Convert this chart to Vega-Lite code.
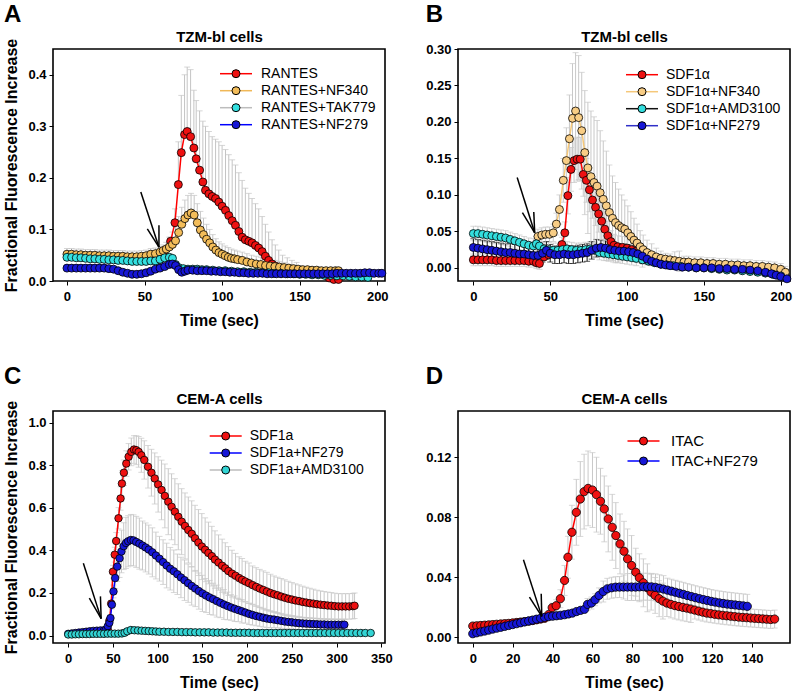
{
"$schema":"https://vega.github.io/schema/vega-lite/v6.json",
"background":"white",
"padding":{"left":3,"top":2,"right":0,"bottom":0},
"config":{
"font":"Liberation Sans",
"view":{"stroke":"black","strokeWidth":1.6},
"axis":{"labelFont":"Liberation Sans","labelFontWeight":"bold","labelFontSize":13,"labelColor":"black","titleFont":"Liberation Sans","titleFontWeight":"bold","titleFontSize":16,"titleColor":"black","tickColor":"black","tickSize":4,"tickWidth":1,"domain":false,"grid":false},
"axisX":{"labelPadding":5,"titlePadding":9},
"axisY":{"labelPadding":3,"titlePadding":8},
"legend":{"labelFont":"Liberation Sans","labelFontSize":14,"labelColor":"black","padding":0,"rowPadding":3},
"title":{"font":"Liberation Sans","fontSize":24,"fontWeight":"bold","color":"black","anchor":"start","frame":"bounds","offset":2}
},
"datasets":{
"A":[
{"s":"RANTES","t":60,"v":0.042},{"s":"RANTES","t":63,"v":0.048},{"s":"RANTES","t":66.8,"v":0.077,"h":0.085},{"s":"RANTES","t":69.6,"v":0.113,"h":0.14},{"s":"RANTES","t":71.8,"v":0.187,"h":0.27},{"s":"RANTES","t":73.7,"v":0.249,"h":0.36},{"s":"RANTES","t":75.8,"v":0.284,"h":0.4},{"s":"RANTES","t":77.5,"v":0.29,"h":0.415},{"s":"RANTES","t":79.7,"v":0.28,"h":0.41},{"s":"RANTES","t":81.8,"v":0.258,"h":0.37},{"s":"RANTES","t":83.3,"v":0.237,"h":0.35},{"s":"RANTES","t":85.5,"v":0.215,"h":0.33},{"s":"RANTES","t":87.6,"v":0.192,"h":0.31},{"s":"RANTES","t":89.3,"v":0.176,"h":0.3},{"s":"RANTES","t":91.5,"v":0.169,"h":0.29},{"s":"RANTES","t":93.6,"v":0.164,"h":0.28},{"s":"RANTES","t":95.8,"v":0.16,"h":0.275},{"s":"RANTES","t":97.9,"v":0.153,"h":0.27},{"s":"RANTES","t":100,"v":0.145,"h":0.263},{"s":"RANTES","t":102.2,"v":0.137,"h":0.255},{"s":"RANTES","t":104.3,"v":0.127,"h":0.245},{"s":"RANTES","t":106.5,"v":0.117,"h":0.235},{"s":"RANTES","t":108.6,"v":0.108,"h":0.225},{"s":"RANTES","t":110.8,"v":0.096,"h":0.21},{"s":"RANTES","t":112.9,"v":0.085,"h":0.195},{"s":"RANTES","t":115,"v":0.08,"h":0.18},{"s":"RANTES","t":117.2,"v":0.077,"h":0.17},{"s":"RANTES","t":119.3,"v":0.074,"h":0.16},{"s":"RANTES","t":121.5,"v":0.069,"h":0.15},{"s":"RANTES","t":123.6,"v":0.064,"h":0.14},{"s":"RANTES","t":125.8,"v":0.057,"h":0.125},{"s":"RANTES","t":127.9,"v":0.048,"h":0.11},{"s":"RANTES","t":130,"v":0.04,"h":0.095},{"s":"RANTES","t":132.2,"v":0.033,"h":0.08},{"s":"RANTES","t":134.3,"v":0.029,"h":0.07},{"s":"RANTES","t":136.5,"v":0.025,"h":0.06},{"s":"RANTES","t":139,"v":0.023,"h":0.05},{"s":"RANTES","t":142,"v":0.022,"h":0.045},{"s":"RANTES","t":145,"v":0.022,"h":0.04},{"s":"RANTES","t":148,"v":0.021,"h":0.036},{"s":"RANTES","t":151,"v":0.021},{"s":"RANTES","t":154,"v":0.02},{"s":"RANTES","t":157,"v":0.02},{"s":"RANTES","t":160,"v":0.019},{"s":"RANTES","t":163,"v":0.017},{"s":"RANTES","t":166,"v":0.012},{"s":"RANTES","t":169,"v":0.006},{"s":"RANTES","t":172,"v":0.003},{"s":"RANTES","t":175,"v":0.003},
{"s":"RANTES+NF340","t":0,"v":0.052,"h":0.063},{"s":"RANTES+NF340","t":3,"v":0.052,"h":0.063},{"s":"RANTES+NF340","t":6,"v":0.051,"h":0.062},{"s":"RANTES+NF340","t":9,"v":0.051,"h":0.062},{"s":"RANTES+NF340","t":12,"v":0.05,"h":0.061},{"s":"RANTES+NF340","t":15,"v":0.05,"h":0.061},{"s":"RANTES+NF340","t":18,"v":0.05,"h":0.061},{"s":"RANTES+NF340","t":21,"v":0.049,"h":0.06},{"s":"RANTES+NF340","t":24,"v":0.049,"h":0.06},{"s":"RANTES+NF340","t":27,"v":0.049,"h":0.06},{"s":"RANTES+NF340","t":30,"v":0.048,"h":0.059},{"s":"RANTES+NF340","t":33,"v":0.048,"h":0.059},{"s":"RANTES+NF340","t":36,"v":0.048,"h":0.059},{"s":"RANTES+NF340","t":39,"v":0.047,"h":0.058},{"s":"RANTES+NF340","t":42,"v":0.047,"h":0.058},{"s":"RANTES+NF340","t":45,"v":0.047,"h":0.058},{"s":"RANTES+NF340","t":48,"v":0.048,"h":0.059},{"s":"RANTES+NF340","t":51,"v":0.049,"h":0.06},{"s":"RANTES+NF340","t":54,"v":0.052,"h":0.063},{"s":"RANTES+NF340","t":57,"v":0.053,"h":0.064},{"s":"RANTES+NF340","t":60,"v":0.056,"h":0.067},{"s":"RANTES+NF340","t":62,"v":0.059,"h":0.07},{"s":"RANTES+NF340","t":64,"v":0.062,"h":0.075},{"s":"RANTES+NF340","t":66,"v":0.066,"h":0.085},{"s":"RANTES+NF340","t":68,"v":0.071,"h":0.095},{"s":"RANTES+NF340","t":70,"v":0.078,"h":0.105},{"s":"RANTES+NF340","t":72,"v":0.094,"h":0.125},{"s":"RANTES+NF340","t":74,"v":0.11,"h":0.143},{"s":"RANTES+NF340","t":76,"v":0.121,"h":0.157},{"s":"RANTES+NF340","t":78,"v":0.128,"h":0.166},{"s":"RANTES+NF340","t":80,"v":0.132,"h":0.17},{"s":"RANTES+NF340","t":82,"v":0.128,"h":0.166},{"s":"RANTES+NF340","t":84,"v":0.113,"h":0.15},{"s":"RANTES+NF340","t":86,"v":0.099,"h":0.135},{"s":"RANTES+NF340","t":88,"v":0.09,"h":0.122},{"s":"RANTES+NF340","t":90,"v":0.081,"h":0.11},{"s":"RANTES+NF340","t":92,"v":0.074,"h":0.1},{"s":"RANTES+NF340","t":94,"v":0.066,"h":0.09},{"s":"RANTES+NF340","t":96,"v":0.06,"h":0.082},{"s":"RANTES+NF340","t":98,"v":0.055,"h":0.076},{"s":"RANTES+NF340","t":100,"v":0.052,"h":0.072},{"s":"RANTES+NF340","t":102,"v":0.049,"h":0.068},{"s":"RANTES+NF340","t":104,"v":0.046,"h":0.065},{"s":"RANTES+NF340","t":106,"v":0.044,"h":0.062},{"s":"RANTES+NF340","t":108,"v":0.043,"h":0.06},{"s":"RANTES+NF340","t":110,"v":0.0415,"h":0.058},{"s":"RANTES+NF340","t":113,"v":0.04,"h":0.056},{"s":"RANTES+NF340","t":116,"v":0.037,"h":0.053},{"s":"RANTES+NF340","t":119,"v":0.035,"h":0.05},{"s":"RANTES+NF340","t":122,"v":0.033,"h":0.048},{"s":"RANTES+NF340","t":125,"v":0.032,"h":0.046},{"s":"RANTES+NF340","t":128,"v":0.03,"h":0.044},{"s":"RANTES+NF340","t":131,"v":0.029,"h":0.042},{"s":"RANTES+NF340","t":134,"v":0.028,"h":0.04},{"s":"RANTES+NF340","t":137,"v":0.027,"h":0.038},{"s":"RANTES+NF340","t":140,"v":0.026,"h":0.036},{"s":"RANTES+NF340","t":143,"v":0.025},{"s":"RANTES+NF340","t":146,"v":0.024},{"s":"RANTES+NF340","t":149,"v":0.023},{"s":"RANTES+NF340","t":152,"v":0.022},{"s":"RANTES+NF340","t":155,"v":0.022},{"s":"RANTES+NF340","t":158,"v":0.021},{"s":"RANTES+NF340","t":161,"v":0.021},{"s":"RANTES+NF340","t":164,"v":0.02},{"s":"RANTES+NF340","t":167,"v":0.02},{"s":"RANTES+NF340","t":170,"v":0.02},{"s":"RANTES+NF340","t":173,"v":0.02},{"s":"RANTES+NF340","t":175,"v":0.02},
{"s":"RANTES+TAK779","t":0,"v":0.046,"h":0.056},{"s":"RANTES+TAK779","t":3,"v":0.046,"h":0.056},{"s":"RANTES+TAK779","t":6,"v":0.045,"h":0.055},{"s":"RANTES+TAK779","t":9,"v":0.045,"h":0.055},{"s":"RANTES+TAK779","t":12,"v":0.044,"h":0.054},{"s":"RANTES+TAK779","t":15,"v":0.043,"h":0.053},{"s":"RANTES+TAK779","t":18,"v":0.043,"h":0.053},{"s":"RANTES+TAK779","t":21,"v":0.042,"h":0.052},{"s":"RANTES+TAK779","t":24,"v":0.042,"h":0.052},{"s":"RANTES+TAK779","t":27,"v":0.041,"h":0.051},{"s":"RANTES+TAK779","t":30,"v":0.041,"h":0.051},{"s":"RANTES+TAK779","t":33,"v":0.04,"h":0.05},{"s":"RANTES+TAK779","t":36,"v":0.04,"h":0.05},{"s":"RANTES+TAK779","t":39,"v":0.039,"h":0.049},{"s":"RANTES+TAK779","t":42,"v":0.038,"h":0.048},{"s":"RANTES+TAK779","t":45,"v":0.038,"h":0.048},{"s":"RANTES+TAK779","t":48,"v":0.038,"h":0.048},{"s":"RANTES+TAK779","t":51,"v":0.038,"h":0.048},{"s":"RANTES+TAK779","t":54,"v":0.039,"h":0.049},{"s":"RANTES+TAK779","t":57,"v":0.039,"h":0.049},{"s":"RANTES+TAK779","t":60,"v":0.042,"h":0.052},{"s":"RANTES+TAK779","t":63,"v":0.045,"h":0.055},{"s":"RANTES+TAK779","t":66,"v":0.046},{"s":"RANTES+TAK779","t":68,"v":0.044},{"s":"RANTES+TAK779","t":70,"v":0.032},{"s":"RANTES+TAK779","t":72,"v":0.026},{"s":"RANTES+TAK779","t":75,"v":0.024},{"s":"RANTES+TAK779","t":78,"v":0.023},{"s":"RANTES+TAK779","t":81,"v":0.023},{"s":"RANTES+TAK779","t":84,"v":0.023},{"s":"RANTES+TAK779","t":87,"v":0.022},{"s":"RANTES+TAK779","t":90,"v":0.022},{"s":"RANTES+TAK779","t":94,"v":0.021},{"s":"RANTES+TAK779","t":98,"v":0.02},{"s":"RANTES+TAK779","t":102,"v":0.02},{"s":"RANTES+TAK779","t":106,"v":0.019},{"s":"RANTES+TAK779","t":110,"v":0.018},{"s":"RANTES+TAK779","t":114,"v":0.018},{"s":"RANTES+TAK779","t":118,"v":0.017},{"s":"RANTES+TAK779","t":122,"v":0.017},{"s":"RANTES+TAK779","t":126,"v":0.016},{"s":"RANTES+TAK779","t":130,"v":0.016},{"s":"RANTES+TAK779","t":134,"v":0.015},{"s":"RANTES+TAK779","t":138,"v":0.015},{"s":"RANTES+TAK779","t":142,"v":0.014},{"s":"RANTES+TAK779","t":146,"v":0.014},{"s":"RANTES+TAK779","t":150,"v":0.013},{"s":"RANTES+TAK779","t":154,"v":0.013},{"s":"RANTES+TAK779","t":158,"v":0.012},{"s":"RANTES+TAK779","t":162,"v":0.012},{"s":"RANTES+TAK779","t":166,"v":0.011},{"s":"RANTES+TAK779","t":170,"v":0.011},{"s":"RANTES+TAK779","t":174,"v":0.01},{"s":"RANTES+TAK779","t":178,"v":0.01},{"s":"RANTES+TAK779","t":182,"v":0.009},{"s":"RANTES+TAK779","t":186,"v":0.008},{"s":"RANTES+TAK779","t":190,"v":0.008},{"s":"RANTES+TAK779","t":194,"v":0.007},
{"s":"RANTES+NF279","t":0,"v":0.025},{"s":"RANTES+NF279","t":3,"v":0.025},{"s":"RANTES+NF279","t":6,"v":0.025},{"s":"RANTES+NF279","t":9,"v":0.025},{"s":"RANTES+NF279","t":12,"v":0.025},{"s":"RANTES+NF279","t":15,"v":0.025},{"s":"RANTES+NF279","t":18,"v":0.025},{"s":"RANTES+NF279","t":21,"v":0.025},{"s":"RANTES+NF279","t":24,"v":0.025},{"s":"RANTES+NF279","t":27,"v":0.024},{"s":"RANTES+NF279","t":30,"v":0.023},{"s":"RANTES+NF279","t":33,"v":0.02},{"s":"RANTES+NF279","t":36,"v":0.017},{"s":"RANTES+NF279","t":39,"v":0.015},{"s":"RANTES+NF279","t":42,"v":0.013},{"s":"RANTES+NF279","t":45,"v":0.013},{"s":"RANTES+NF279","t":48,"v":0.014},{"s":"RANTES+NF279","t":51,"v":0.016},{"s":"RANTES+NF279","t":54,"v":0.019},{"s":"RANTES+NF279","t":57,"v":0.023},{"s":"RANTES+NF279","t":60,"v":0.025},{"s":"RANTES+NF279","t":63,"v":0.028},{"s":"RANTES+NF279","t":66,"v":0.032},{"s":"RANTES+NF279","t":68,"v":0.033},{"s":"RANTES+NF279","t":70,"v":0.03},{"s":"RANTES+NF279","t":72,"v":0.022},{"s":"RANTES+NF279","t":74,"v":0.017},{"s":"RANTES+NF279","t":76,"v":0.019},{"s":"RANTES+NF279","t":78,"v":0.021},{"s":"RANTES+NF279","t":81,"v":0.021},{"s":"RANTES+NF279","t":84,"v":0.02},{"s":"RANTES+NF279","t":87,"v":0.02},{"s":"RANTES+NF279","t":90,"v":0.02},{"s":"RANTES+NF279","t":93,"v":0.019},{"s":"RANTES+NF279","t":96,"v":0.019},{"s":"RANTES+NF279","t":99,"v":0.018},{"s":"RANTES+NF279","t":102,"v":0.018},{"s":"RANTES+NF279","t":105,"v":0.017},{"s":"RANTES+NF279","t":108,"v":0.017},{"s":"RANTES+NF279","t":111,"v":0.016},{"s":"RANTES+NF279","t":114,"v":0.016},{"s":"RANTES+NF279","t":117,"v":0.015},{"s":"RANTES+NF279","t":120,"v":0.015},{"s":"RANTES+NF279","t":123,"v":0.015},{"s":"RANTES+NF279","t":126,"v":0.015},{"s":"RANTES+NF279","t":129,"v":0.014},{"s":"RANTES+NF279","t":132,"v":0.014},{"s":"RANTES+NF279","t":135,"v":0.014},{"s":"RANTES+NF279","t":138,"v":0.014},{"s":"RANTES+NF279","t":141,"v":0.014},{"s":"RANTES+NF279","t":144,"v":0.014},{"s":"RANTES+NF279","t":147,"v":0.014},{"s":"RANTES+NF279","t":150,"v":0.014},{"s":"RANTES+NF279","t":153,"v":0.014},{"s":"RANTES+NF279","t":156,"v":0.014},{"s":"RANTES+NF279","t":159,"v":0.014},{"s":"RANTES+NF279","t":162,"v":0.014},{"s":"RANTES+NF279","t":165,"v":0.014},{"s":"RANTES+NF279","t":168,"v":0.014},{"s":"RANTES+NF279","t":171,"v":0.014},{"s":"RANTES+NF279","t":174,"v":0.015},{"s":"RANTES+NF279","t":177,"v":0.015},{"s":"RANTES+NF279","t":180,"v":0.015},{"s":"RANTES+NF279","t":183,"v":0.015},{"s":"RANTES+NF279","t":186,"v":0.015},{"s":"RANTES+NF279","t":189,"v":0.015},{"s":"RANTES+NF279","t":192,"v":0.016},{"s":"RANTES+NF279","t":195,"v":0.016},{"s":"RANTES+NF279","t":198,"v":0.015},{"s":"RANTES+NF279","t":201,"v":0.015},{"s":"RANTES+NF279","t":203,"v":0.015}
],
"B":[
{"s":"SDF1α","t":0,"v":0.011,"e":0.008},{"s":"SDF1α","t":3,"v":0.011,"e":0.008},{"s":"SDF1α","t":6,"v":0.011,"e":0.008},{"s":"SDF1α","t":9,"v":0.011,"e":0.008},{"s":"SDF1α","t":12,"v":0.011,"e":0.008},{"s":"SDF1α","t":15,"v":0.01,"e":0.008},{"s":"SDF1α","t":18,"v":0.01,"e":0.008},{"s":"SDF1α","t":21,"v":0.01,"e":0.008},{"s":"SDF1α","t":24,"v":0.01,"e":0.008},{"s":"SDF1α","t":27,"v":0.01,"e":0.008},{"s":"SDF1α","t":30,"v":0.01,"e":0.008},{"s":"SDF1α","t":33,"v":0.01,"e":0.008},{"s":"SDF1α","t":36,"v":0.009,"e":0.008},{"s":"SDF1α","t":39,"v":0.009,"e":0.008},{"s":"SDF1α","t":41,"v":0.007,"e":0.008},{"s":"SDF1α","t":43,"v":0.006,"e":0.008},{"s":"SDF1α","t":46,"v":0.015},{"s":"SDF1α","t":49,"v":0.018},{"s":"SDF1α","t":52,"v":0.02},{"s":"SDF1α","t":55,"v":0.022},{"s":"SDF1α","t":57.6,"v":0.032,"e":0.01},{"s":"SDF1α","t":59.5,"v":0.048,"e":0.015},{"s":"SDF1α","t":61.5,"v":0.099,"e":0.025},{"s":"SDF1α","t":63.5,"v":0.135,"e":0.03},{"s":"SDF1α","t":65.5,"v":0.147,"e":0.03},{"s":"SDF1α","t":67.5,"v":0.149,"e":0.03},{"s":"SDF1α","t":69.5,"v":0.149,"e":0.03},{"s":"SDF1α","t":71.5,"v":0.128,"e":0.03},{"s":"SDF1α","t":73.5,"v":0.12,"e":0.03},{"s":"SDF1α","t":75.5,"v":0.107,"e":0.03},{"s":"SDF1α","t":77.5,"v":0.093,"e":0.025},{"s":"SDF1α","t":79.5,"v":0.083,"e":0.025},{"s":"SDF1α","t":81.5,"v":0.074,"e":0.025},{"s":"SDF1α","t":83.5,"v":0.064,"e":0.025},{"s":"SDF1α","t":85.5,"v":0.053,"e":0.025},{"s":"SDF1α","t":87.5,"v":0.044,"e":0.02},{"s":"SDF1α","t":89.5,"v":0.036,"e":0.015},{"s":"SDF1α","t":91.5,"v":0.031,"e":0.015},{"s":"SDF1α","t":94,"v":0.029,"e":0.015},{"s":"SDF1α","t":97,"v":0.028,"e":0.015},{"s":"SDF1α","t":100,"v":0.027,"e":0.015},{"s":"SDF1α","t":103,"v":0.025,"e":0.012},{"s":"SDF1α","t":106,"v":0.023,"e":0.012},{"s":"SDF1α","t":110,"v":0.02,"e":0.01},{"s":"SDF1α","t":115,"v":0.016},{"s":"SDF1α","t":120,"v":0.012},{"s":"SDF1α","t":125,"v":0.009},{"s":"SDF1α","t":130,"v":0.006},{"s":"SDF1α","t":135,"v":0.004},{"s":"SDF1α","t":140,"v":0.003},{"s":"SDF1α","t":145,"v":0.002},{"s":"SDF1α","t":150,"v":0.001},{"s":"SDF1α","t":155,"v":0},{"s":"SDF1α","t":160,"v":0},{"s":"SDF1α","t":165,"v":-0.001},{"s":"SDF1α","t":170,"v":-0.002},{"s":"SDF1α","t":175,"v":-0.003},{"s":"SDF1α","t":180,"v":-0.004},{"s":"SDF1α","t":185,"v":-0.005},{"s":"SDF1α","t":190,"v":-0.007},{"s":"SDF1α","t":195,"v":-0.008},{"s":"SDF1α","t":200,"v":-0.01},
{"s":"SDF1α+NF340","t":42,"v":0.043,"e":0.01},{"s":"SDF1α+NF340","t":44.5,"v":0.045,"e":0.01},{"s":"SDF1α+NF340","t":47,"v":0.046,"e":0.01},{"s":"SDF1α+NF340","t":49.5,"v":0.046,"e":0.01},{"s":"SDF1α+NF340","t":52,"v":0.048,"e":0.012},{"s":"SDF1α+NF340","t":54,"v":0.06,"e":0.015},{"s":"SDF1α+NF340","t":56,"v":0.08,"e":0.02},{"s":"SDF1α+NF340","t":58.5,"v":0.12,"e":0.03},{"s":"SDF1α+NF340","t":60.5,"v":0.147,"e":0.045},{"s":"SDF1α+NF340","t":62.5,"v":0.177,"e":0.06},{"s":"SDF1α+NF340","t":64.5,"v":0.205,"e":0.075},{"s":"SDF1α+NF340","t":66.5,"v":0.215,"e":0.08},{"s":"SDF1α+NF340","t":68.5,"v":0.206,"e":0.085},{"s":"SDF1α+NF340","t":70.5,"v":0.188,"e":0.08},{"s":"SDF1α+NF340","t":72.5,"v":0.158,"e":0.085},{"s":"SDF1α+NF340","t":74.5,"v":0.137,"e":0.09},{"s":"SDF1α+NF340","t":76.5,"v":0.125,"e":0.09},{"s":"SDF1α+NF340","t":78.5,"v":0.117,"e":0.09},{"s":"SDF1α+NF340","t":80.5,"v":0.112,"e":0.09},{"s":"SDF1α+NF340","t":82.5,"v":0.103,"e":0.085},{"s":"SDF1α+NF340","t":84.5,"v":0.094,"e":0.08},{"s":"SDF1α+NF340","t":86.5,"v":0.085,"e":0.075},{"s":"SDF1α+NF340","t":88.5,"v":0.076,"e":0.065},{"s":"SDF1α+NF340","t":90.5,"v":0.068,"e":0.058},{"s":"SDF1α+NF340","t":92.5,"v":0.062,"e":0.055},{"s":"SDF1α+NF340","t":94.5,"v":0.058,"e":0.05},{"s":"SDF1α+NF340","t":96.5,"v":0.055,"e":0.045},{"s":"SDF1α+NF340","t":98.5,"v":0.053,"e":0.04},{"s":"SDF1α+NF340","t":100.5,"v":0.048,"e":0.037},{"s":"SDF1α+NF340","t":102.5,"v":0.043,"e":0.034},{"s":"SDF1α+NF340","t":104.5,"v":0.038,"e":0.03},{"s":"SDF1α+NF340","t":106.5,"v":0.034,"e":0.026},{"s":"SDF1α+NF340","t":108.5,"v":0.029,"e":0.022},{"s":"SDF1α+NF340","t":110.5,"v":0.025,"e":0.02},{"s":"SDF1α+NF340","t":113,"v":0.021,"e":0.017},{"s":"SDF1α+NF340","t":116,"v":0.018,"e":0.015},{"s":"SDF1α+NF340","t":119,"v":0.015,"e":0.012},{"s":"SDF1α+NF340","t":122,"v":0.013,"e":0.01},{"s":"SDF1α+NF340","t":125,"v":0.012,"e":0.008},{"s":"SDF1α+NF340","t":128,"v":0.011,"e":0.008},{"s":"SDF1α+NF340","t":131,"v":0.01,"e":0.012},{"s":"SDF1α+NF340","t":134,"v":0.009,"e":0.014},{"s":"SDF1α+NF340","t":137,"v":0.008,"e":0.008},{"s":"SDF1α+NF340","t":140,"v":0.008,"e":0.008},{"s":"SDF1α+NF340","t":144,"v":0.007,"e":0.008},{"s":"SDF1α+NF340","t":148,"v":0.007,"e":0.008},{"s":"SDF1α+NF340","t":152,"v":0.006,"e":0.008},{"s":"SDF1α+NF340","t":156,"v":0.006,"e":0.008},{"s":"SDF1α+NF340","t":160,"v":0.005,"e":0.008},{"s":"SDF1α+NF340","t":164,"v":0.005,"e":0.008},{"s":"SDF1α+NF340","t":168,"v":0.004,"e":0.008},{"s":"SDF1α+NF340","t":172,"v":0.004,"e":0.008},{"s":"SDF1α+NF340","t":176,"v":0.003,"e":0.008},{"s":"SDF1α+NF340","t":180,"v":0.003,"e":0.008},{"s":"SDF1α+NF340","t":184,"v":0.002,"e":0.008},{"s":"SDF1α+NF340","t":188,"v":0.002,"e":0.008},{"s":"SDF1α+NF340","t":192,"v":0.001,"e":0.008},{"s":"SDF1α+NF340","t":196,"v":0,"e":0.008},{"s":"SDF1α+NF340","t":200,"v":-0.002,"e":0.008},{"s":"SDF1α+NF340","t":203,"v":-0.006,"e":0.008},
{"s":"SDF1α+AMD3100","t":0,"v":0.047,"e":0.01},{"s":"SDF1α+AMD3100","t":3,"v":0.047,"e":0.01},{"s":"SDF1α+AMD3100","t":6,"v":0.046,"e":0.01},{"s":"SDF1α+AMD3100","t":9,"v":0.045,"e":0.01},{"s":"SDF1α+AMD3100","t":12,"v":0.044,"e":0.01},{"s":"SDF1α+AMD3100","t":15,"v":0.043,"e":0.01},{"s":"SDF1α+AMD3100","t":18,"v":0.042,"e":0.01},{"s":"SDF1α+AMD3100","t":21,"v":0.041,"e":0.01},{"s":"SDF1α+AMD3100","t":24,"v":0.039,"e":0.01},{"s":"SDF1α+AMD3100","t":27,"v":0.037,"e":0.01},{"s":"SDF1α+AMD3100","t":30,"v":0.035,"e":0.01},{"s":"SDF1α+AMD3100","t":33,"v":0.033,"e":0.01},{"s":"SDF1α+AMD3100","t":36,"v":0.031,"e":0.01},{"s":"SDF1α+AMD3100","t":39,"v":0.03,"e":0.01},{"s":"SDF1α+AMD3100","t":41,"v":0.033,"e":0.01},{"s":"SDF1α+AMD3100","t":43,"v":0.03,"e":0.01},{"s":"SDF1α+AMD3100","t":46,"v":0.026,"e":0.01},{"s":"SDF1α+AMD3100","t":49,"v":0.025,"e":0.01},{"s":"SDF1α+AMD3100","t":52,"v":0.024,"e":0.01},{"s":"SDF1α+AMD3100","t":55,"v":0.024,"e":0.01},{"s":"SDF1α+AMD3100","t":58,"v":0.025,"e":0.01},{"s":"SDF1α+AMD3100","t":61,"v":0.026,"e":0.01},{"s":"SDF1α+AMD3100","t":64,"v":0.025,"e":0.01},{"s":"SDF1α+AMD3100","t":67,"v":0.024,"e":0.01},{"s":"SDF1α+AMD3100","t":70,"v":0.024,"e":0.01},{"s":"SDF1α+AMD3100","t":73,"v":0.025,"e":0.01},{"s":"SDF1α+AMD3100","t":76,"v":0.026,"e":0.01},{"s":"SDF1α+AMD3100","t":79,"v":0.024,"e":0.01},{"s":"SDF1α+AMD3100","t":82,"v":0.021,"e":0.01},{"s":"SDF1α+AMD3100","t":85,"v":0.02,"e":0.01},{"s":"SDF1α+AMD3100","t":88,"v":0.019,"e":0.01},{"s":"SDF1α+AMD3100","t":91,"v":0.018,"e":0.01},{"s":"SDF1α+AMD3100","t":94,"v":0.017,"e":0.01},{"s":"SDF1α+AMD3100","t":97,"v":0.016,"e":0.01},{"s":"SDF1α+AMD3100","t":100,"v":0.015,"e":0.01},{"s":"SDF1α+AMD3100","t":103,"v":0.014,"e":0.01},{"s":"SDF1α+AMD3100","t":106,"v":0.013,"e":0.01},{"s":"SDF1α+AMD3100","t":110,"v":0.011,"e":0.01},{"s":"SDF1α+AMD3100","t":114,"v":0.009},{"s":"SDF1α+AMD3100","t":118,"v":0.007},{"s":"SDF1α+AMD3100","t":122,"v":0.005},{"s":"SDF1α+AMD3100","t":126,"v":0.004},{"s":"SDF1α+AMD3100","t":130,"v":0.003},{"s":"SDF1α+AMD3100","t":135,"v":0.002},{"s":"SDF1α+AMD3100","t":140,"v":0.001},{"s":"SDF1α+AMD3100","t":145,"v":0},{"s":"SDF1α+AMD3100","t":150,"v":0},{"s":"SDF1α+AMD3100","t":155,"v":-0.001},{"s":"SDF1α+AMD3100","t":160,"v":-0.002},{"s":"SDF1α+AMD3100","t":165,"v":-0.003},{"s":"SDF1α+AMD3100","t":170,"v":-0.003},{"s":"SDF1α+AMD3100","t":175,"v":-0.004},{"s":"SDF1α+AMD3100","t":180,"v":-0.005},{"s":"SDF1α+AMD3100","t":185,"v":-0.006},{"s":"SDF1α+AMD3100","t":190,"v":-0.007},{"s":"SDF1α+AMD3100","t":195,"v":-0.009},{"s":"SDF1α+AMD3100","t":200,"v":-0.011},
{"s":"SDF1α+NF279","t":0,"v":0.028,"e":0.012},{"s":"SDF1α+NF279","t":3,"v":0.027,"e":0.012},{"s":"SDF1α+NF279","t":6,"v":0.026,"e":0.012},{"s":"SDF1α+NF279","t":9,"v":0.025,"e":0.012},{"s":"SDF1α+NF279","t":12,"v":0.024,"e":0.012},{"s":"SDF1α+NF279","t":15,"v":0.023,"e":0.012},{"s":"SDF1α+NF279","t":18,"v":0.022,"e":0.012},{"s":"SDF1α+NF279","t":21,"v":0.021,"e":0.012},{"s":"SDF1α+NF279","t":24,"v":0.021,"e":0.012},{"s":"SDF1α+NF279","t":27,"v":0.02,"e":0.012},{"s":"SDF1α+NF279","t":30,"v":0.019,"e":0.012},{"s":"SDF1α+NF279","t":33,"v":0.019,"e":0.012},{"s":"SDF1α+NF279","t":36,"v":0.018,"e":0.012},{"s":"SDF1α+NF279","t":39,"v":0.017,"e":0.012},{"s":"SDF1α+NF279","t":42,"v":0.017,"e":0.012},{"s":"SDF1α+NF279","t":45,"v":0.02,"e":0.012},{"s":"SDF1α+NF279","t":47.5,"v":0.024,"e":0.012},{"s":"SDF1α+NF279","t":50,"v":0.02,"e":0.012},{"s":"SDF1α+NF279","t":53,"v":0.018,"e":0.012},{"s":"SDF1α+NF279","t":56,"v":0.018,"e":0.012},{"s":"SDF1α+NF279","t":59,"v":0.019,"e":0.012},{"s":"SDF1α+NF279","t":62,"v":0.018,"e":0.012},{"s":"SDF1α+NF279","t":65,"v":0.018,"e":0.012},{"s":"SDF1α+NF279","t":68,"v":0.019,"e":0.012},{"s":"SDF1α+NF279","t":71,"v":0.02,"e":0.012},{"s":"SDF1α+NF279","t":74,"v":0.021,"e":0.012},{"s":"SDF1α+NF279","t":77,"v":0.024,"e":0.012},{"s":"SDF1α+NF279","t":80,"v":0.027,"e":0.012},{"s":"SDF1α+NF279","t":83,"v":0.028,"e":0.01},{"s":"SDF1α+NF279","t":86,"v":0.027,"e":0.01},{"s":"SDF1α+NF279","t":89,"v":0.025,"e":0.01},{"s":"SDF1α+NF279","t":92,"v":0.024,"e":0.01},{"s":"SDF1α+NF279","t":95,"v":0.023,"e":0.01},{"s":"SDF1α+NF279","t":98,"v":0.023,"e":0.01},{"s":"SDF1α+NF279","t":101,"v":0.022,"e":0.01},{"s":"SDF1α+NF279","t":104,"v":0.021,"e":0.01},{"s":"SDF1α+NF279","t":107,"v":0.019,"e":0.01},{"s":"SDF1α+NF279","t":110,"v":0.016,"e":0.01},{"s":"SDF1α+NF279","t":113,"v":0.012},{"s":"SDF1α+NF279","t":116,"v":0.009},{"s":"SDF1α+NF279","t":119,"v":0.007},{"s":"SDF1α+NF279","t":122,"v":0.005},{"s":"SDF1α+NF279","t":125,"v":0.004},{"s":"SDF1α+NF279","t":128,"v":0.003},{"s":"SDF1α+NF279","t":132,"v":0.002},{"s":"SDF1α+NF279","t":136,"v":0.001},{"s":"SDF1α+NF279","t":140,"v":0.001},{"s":"SDF1α+NF279","t":145,"v":0},{"s":"SDF1α+NF279","t":150,"v":0},{"s":"SDF1α+NF279","t":155,"v":0},{"s":"SDF1α+NF279","t":160,"v":-0.001},{"s":"SDF1α+NF279","t":165,"v":-0.001},{"s":"SDF1α+NF279","t":170,"v":-0.002},{"s":"SDF1α+NF279","t":175,"v":-0.002},{"s":"SDF1α+NF279","t":180,"v":-0.003},{"s":"SDF1α+NF279","t":185,"v":-0.004},{"s":"SDF1α+NF279","t":190,"v":-0.006},{"s":"SDF1α+NF279","t":194,"v":-0.008},{"s":"SDF1α+NF279","t":197,"v":-0.01},{"s":"SDF1α+NF279","t":200,"v":-0.012},{"s":"SDF1α+NF279","t":204,"v":-0.015}
],
"C":[
{"s":"SDF1a","t":40,"v":0.02},{"s":"SDF1a","t":44,"v":0.03,"e":0.01},{"s":"SDF1a","t":46,"v":0.07,"e":0.01},{"s":"SDF1a","t":48,"v":0.15,"e":0.015},{"s":"SDF1a","t":50,"v":0.3,"e":0.03},{"s":"SDF1a","t":52,"v":0.38,"e":0.035},{"s":"SDF1a","t":53.6,"v":0.444,"e":0.04},{"s":"SDF1a","t":56.2,"v":0.551,"e":0.05},{"s":"SDF1a","t":58.5,"v":0.644,"e":0.055},{"s":"SDF1a","t":60,"v":0.714,"e":0.06},{"s":"SDF1a","t":62.2,"v":0.765,"e":0.06},{"s":"SDF1a","t":64.9,"v":0.808,"e":0.06},{"s":"SDF1a","t":67.5,"v":0.84,"e":0.062},{"s":"SDF1a","t":70.5,"v":0.863,"e":0.065},{"s":"SDF1a","t":73.5,"v":0.874,"e":0.065},{"s":"SDF1a","t":76.1,"v":0.871,"e":0.068},{"s":"SDF1a","t":78.7,"v":0.863,"e":0.072},{"s":"SDF1a","t":81.7,"v":0.847,"e":0.08},{"s":"SDF1a","t":85,"v":0.825,"e":0.09},{"s":"SDF1a","t":89.2,"v":0.793,"e":0.1},{"s":"SDF1a","t":93,"v":0.765,"e":0.11},{"s":"SDF1a","t":96.7,"v":0.738,"e":0.12},{"s":"SDF1a","t":100.5,"v":0.71,"e":0.13},{"s":"SDF1a","t":104.3,"v":0.684,"e":0.14},{"s":"SDF1a","t":108,"v":0.656,"e":0.15},{"s":"SDF1a","t":111.8,"v":0.629,"e":0.155},{"s":"SDF1a","t":115.5,"v":0.605,"e":0.155},{"s":"SDF1a","t":119.2,"v":0.582,"e":0.155},{"s":"SDF1a","t":123,"v":0.558,"e":0.155},{"s":"SDF1a","t":126.8,"v":0.535,"e":0.155},{"s":"SDF1a","t":130.5,"v":0.515,"e":0.155},{"s":"SDF1a","t":134.2,"v":0.496,"e":0.155},{"s":"SDF1a","t":138,"v":0.478,"e":0.155},{"s":"SDF1a","t":141.7,"v":0.457,"e":0.155},{"s":"SDF1a","t":145.5,"v":0.437,"e":0.155},{"s":"SDF1a","t":149.3,"v":0.418,"e":0.155},{"s":"SDF1a","t":153,"v":0.403,"e":0.15},{"s":"SDF1a","t":156.7,"v":0.388,"e":0.145},{"s":"SDF1a","t":160.5,"v":0.373,"e":0.14},{"s":"SDF1a","t":164,"v":0.357,"e":0.135},{"s":"SDF1a","t":168,"v":0.343,"e":0.13},{"s":"SDF1a","t":172,"v":0.328,"e":0.125},{"s":"SDF1a","t":175.5,"v":0.316,"e":0.12},{"s":"SDF1a","t":179,"v":0.303,"e":0.115},{"s":"SDF1a","t":183,"v":0.291,"e":0.11},{"s":"SDF1a","t":187,"v":0.281,"e":0.105},{"s":"SDF1a","t":191,"v":0.27,"e":0.1},{"s":"SDF1a","t":194.3,"v":0.262,"e":0.1},{"s":"SDF1a","t":198,"v":0.254,"e":0.095},{"s":"SDF1a","t":202,"v":0.246,"e":0.095},{"s":"SDF1a","t":206,"v":0.237,"e":0.09},{"s":"SDF1a","t":210,"v":0.229,"e":0.09},{"s":"SDF1a","t":214,"v":0.221,"e":0.09},{"s":"SDF1a","t":218,"v":0.214,"e":0.09},{"s":"SDF1a","t":222,"v":0.207,"e":0.09},{"s":"SDF1a","t":226,"v":0.2,"e":0.088},{"s":"SDF1a","t":230,"v":0.194,"e":0.086},{"s":"SDF1a","t":234,"v":0.189,"e":0.085},{"s":"SDF1a","t":238,"v":0.183,"e":0.085},{"s":"SDF1a","t":242,"v":0.178,"e":0.084},{"s":"SDF1a","t":246,"v":0.173,"e":0.082},{"s":"SDF1a","t":250,"v":0.169,"e":0.08},{"s":"SDF1a","t":254,"v":0.165,"e":0.078},{"s":"SDF1a","t":258,"v":0.162,"e":0.076},{"s":"SDF1a","t":262,"v":0.158,"e":0.074},{"s":"SDF1a","t":266,"v":0.155,"e":0.072},{"s":"SDF1a","t":270,"v":0.152,"e":0.07},{"s":"SDF1a","t":274,"v":0.15,"e":0.068},{"s":"SDF1a","t":278,"v":0.147,"e":0.066},{"s":"SDF1a","t":282,"v":0.145,"e":0.065},{"s":"SDF1a","t":286,"v":0.143,"e":0.064},{"s":"SDF1a","t":290,"v":0.141,"e":0.063},{"s":"SDF1a","t":294,"v":0.14,"e":0.062},{"s":"SDF1a","t":298,"v":0.138,"e":0.061},{"s":"SDF1a","t":302,"v":0.137,"e":0.06},{"s":"SDF1a","t":306,"v":0.137,"e":0.06},{"s":"SDF1a","t":310,"v":0.137,"e":0.06},{"s":"SDF1a","t":314,"v":0.137,"e":0.06},{"s":"SDF1a","t":318,"v":0.138,"e":0.06},{"s":"SDF1a","t":320,"v":0.14,"e":0.06},
{"s":"SDF1a+NF279","t":0,"v":0.008},{"s":"SDF1a+NF279","t":4,"v":0.01},{"s":"SDF1a+NF279","t":8,"v":0.012},{"s":"SDF1a+NF279","t":12,"v":0.014},{"s":"SDF1a+NF279","t":16,"v":0.016},{"s":"SDF1a+NF279","t":20,"v":0.018},{"s":"SDF1a+NF279","t":24,"v":0.02},{"s":"SDF1a+NF279","t":28,"v":0.022},{"s":"SDF1a+NF279","t":32,"v":0.023},{"s":"SDF1a+NF279","t":36,"v":0.024},{"s":"SDF1a+NF279","t":40,"v":0.025},{"s":"SDF1a+NF279","t":42,"v":0.027},{"s":"SDF1a+NF279","t":44.2,"v":0.044,"e":0.01},{"s":"SDF1a+NF279","t":46,"v":0.06,"e":0.012},{"s":"SDF1a+NF279","t":47.2,"v":0.082,"e":0.015},{"s":"SDF1a+NF279","t":48.8,"v":0.145,"e":0.02},{"s":"SDF1a+NF279","t":50.6,"v":0.207,"e":0.03},{"s":"SDF1a+NF279","t":52.5,"v":0.27,"e":0.05},{"s":"SDF1a+NF279","t":54.8,"v":0.324,"e":0.07},{"s":"SDF1a+NF279","t":57.4,"v":0.363,"e":0.09},{"s":"SDF1a+NF279","t":59.5,"v":0.395,"e":0.1},{"s":"SDF1a+NF279","t":62,"v":0.42,"e":0.11},{"s":"SDF1a+NF279","t":64.5,"v":0.435,"e":0.12},{"s":"SDF1a+NF279","t":67,"v":0.443,"e":0.12},{"s":"SDF1a+NF279","t":70,"v":0.449,"e":0.12},{"s":"SDF1a+NF279","t":73,"v":0.447,"e":0.12},{"s":"SDF1a+NF279","t":76,"v":0.44,"e":0.12},{"s":"SDF1a+NF279","t":79.5,"v":0.432,"e":0.12},{"s":"SDF1a+NF279","t":83,"v":0.423,"e":0.115},{"s":"SDF1a+NF279","t":86.5,"v":0.414,"e":0.115},{"s":"SDF1a+NF279","t":90,"v":0.404,"e":0.115},{"s":"SDF1a+NF279","t":94,"v":0.391,"e":0.115},{"s":"SDF1a+NF279","t":98,"v":0.376,"e":0.11},{"s":"SDF1a+NF279","t":102,"v":0.361,"e":0.105},{"s":"SDF1a+NF279","t":106,"v":0.345,"e":0.105},{"s":"SDF1a+NF279","t":110,"v":0.329,"e":0.105},{"s":"SDF1a+NF279","t":114,"v":0.314,"e":0.1},{"s":"SDF1a+NF279","t":118,"v":0.302,"e":0.1},{"s":"SDF1a+NF279","t":122,"v":0.288,"e":0.095},{"s":"SDF1a+NF279","t":126,"v":0.273,"e":0.095},{"s":"SDF1a+NF279","t":130,"v":0.26,"e":0.095},{"s":"SDF1a+NF279","t":134,"v":0.246,"e":0.09},{"s":"SDF1a+NF279","t":138,"v":0.233,"e":0.09},{"s":"SDF1a+NF279","t":142,"v":0.221,"e":0.085},{"s":"SDF1a+NF279","t":146,"v":0.209,"e":0.085},{"s":"SDF1a+NF279","t":150,"v":0.198,"e":0.085},{"s":"SDF1a+NF279","t":154,"v":0.188,"e":0.08},{"s":"SDF1a+NF279","t":158,"v":0.179,"e":0.08},{"s":"SDF1a+NF279","t":162,"v":0.171,"e":0.075},{"s":"SDF1a+NF279","t":166,"v":0.162,"e":0.075},{"s":"SDF1a+NF279","t":170,"v":0.154,"e":0.07},{"s":"SDF1a+NF279","t":174,"v":0.146,"e":0.07},{"s":"SDF1a+NF279","t":178,"v":0.139,"e":0.065},{"s":"SDF1a+NF279","t":182,"v":0.132,"e":0.06},{"s":"SDF1a+NF279","t":186,"v":0.126,"e":0.06},{"s":"SDF1a+NF279","t":190,"v":0.12,"e":0.055},{"s":"SDF1a+NF279","t":194,"v":0.114,"e":0.055},{"s":"SDF1a+NF279","t":198,"v":0.108,"e":0.05},{"s":"SDF1a+NF279","t":202,"v":0.102,"e":0.05},{"s":"SDF1a+NF279","t":206,"v":0.097,"e":0.048},{"s":"SDF1a+NF279","t":210,"v":0.092,"e":0.046},{"s":"SDF1a+NF279","t":214,"v":0.088,"e":0.045},{"s":"SDF1a+NF279","t":218,"v":0.084,"e":0.044},{"s":"SDF1a+NF279","t":222,"v":0.08,"e":0.042},{"s":"SDF1a+NF279","t":226,"v":0.077,"e":0.04},{"s":"SDF1a+NF279","t":230,"v":0.075,"e":0.038},{"s":"SDF1a+NF279","t":234,"v":0.072,"e":0.036},{"s":"SDF1a+NF279","t":238,"v":0.069,"e":0.035},{"s":"SDF1a+NF279","t":242,"v":0.066,"e":0.034},{"s":"SDF1a+NF279","t":246,"v":0.064,"e":0.033},{"s":"SDF1a+NF279","t":250,"v":0.062,"e":0.032},{"s":"SDF1a+NF279","t":254,"v":0.06,"e":0.031},{"s":"SDF1a+NF279","t":258,"v":0.058,"e":0.03},{"s":"SDF1a+NF279","t":262,"v":0.057,"e":0.029},{"s":"SDF1a+NF279","t":266,"v":0.056,"e":0.028},{"s":"SDF1a+NF279","t":270,"v":0.055,"e":0.027},{"s":"SDF1a+NF279","t":274,"v":0.054,"e":0.026},{"s":"SDF1a+NF279","t":278,"v":0.053,"e":0.026},{"s":"SDF1a+NF279","t":282,"v":0.052,"e":0.025},{"s":"SDF1a+NF279","t":286,"v":0.052,"e":0.025},{"s":"SDF1a+NF279","t":290,"v":0.051,"e":0.025},{"s":"SDF1a+NF279","t":294,"v":0.051,"e":0.025},{"s":"SDF1a+NF279","t":298,"v":0.051,"e":0.025},{"s":"SDF1a+NF279","t":302,"v":0.051,"e":0.025},{"s":"SDF1a+NF279","t":306,"v":0.051,"e":0.025},{"s":"SDF1a+NF279","t":308.6,"v":0.051,"e":0.025},
{"s":"SDF1a+AMD3100","t":0,"v":0.005},{"s":"SDF1a+AMD3100","t":4,"v":0.005},{"s":"SDF1a+AMD3100","t":8,"v":0.006},{"s":"SDF1a+AMD3100","t":12,"v":0.006},{"s":"SDF1a+AMD3100","t":16,"v":0.007},{"s":"SDF1a+AMD3100","t":20,"v":0.007},{"s":"SDF1a+AMD3100","t":24,"v":0.007},{"s":"SDF1a+AMD3100","t":28,"v":0.008},{"s":"SDF1a+AMD3100","t":32,"v":0.008},{"s":"SDF1a+AMD3100","t":36,"v":0.008},{"s":"SDF1a+AMD3100","t":40,"v":0.008},{"s":"SDF1a+AMD3100","t":44,"v":0.009},{"s":"SDF1a+AMD3100","t":48,"v":0.009},{"s":"SDF1a+AMD3100","t":52,"v":0.009},{"s":"SDF1a+AMD3100","t":56,"v":0.009},{"s":"SDF1a+AMD3100","t":60,"v":0.01},{"s":"SDF1a+AMD3100","t":63,"v":0.013},{"s":"SDF1a+AMD3100","t":66,"v":0.02},{"s":"SDF1a+AMD3100","t":70,"v":0.026},{"s":"SDF1a+AMD3100","t":74,"v":0.025},{"s":"SDF1a+AMD3100","t":78,"v":0.024},{"s":"SDF1a+AMD3100","t":82,"v":0.023},{"s":"SDF1a+AMD3100","t":86,"v":0.022},{"s":"SDF1a+AMD3100","t":90,"v":0.021},{"s":"SDF1a+AMD3100","t":94,"v":0.02},{"s":"SDF1a+AMD3100","t":98,"v":0.019},{"s":"SDF1a+AMD3100","t":102,"v":0.018},{"s":"SDF1a+AMD3100","t":107,"v":0.018},{"s":"SDF1a+AMD3100","t":112,"v":0.017},{"s":"SDF1a+AMD3100","t":117,"v":0.017},{"s":"SDF1a+AMD3100","t":122,"v":0.017},{"s":"SDF1a+AMD3100","t":127,"v":0.016},{"s":"SDF1a+AMD3100","t":132,"v":0.016},{"s":"SDF1a+AMD3100","t":137,"v":0.016},{"s":"SDF1a+AMD3100","t":142,"v":0.015},{"s":"SDF1a+AMD3100","t":147,"v":0.015},{"s":"SDF1a+AMD3100","t":152,"v":0.015},{"s":"SDF1a+AMD3100","t":157,"v":0.015},{"s":"SDF1a+AMD3100","t":162,"v":0.014},{"s":"SDF1a+AMD3100","t":167,"v":0.014},{"s":"SDF1a+AMD3100","t":172,"v":0.014},{"s":"SDF1a+AMD3100","t":177,"v":0.014},{"s":"SDF1a+AMD3100","t":182,"v":0.013},{"s":"SDF1a+AMD3100","t":187,"v":0.013},{"s":"SDF1a+AMD3100","t":192,"v":0.013},{"s":"SDF1a+AMD3100","t":197,"v":0.013},{"s":"SDF1a+AMD3100","t":202,"v":0.013},{"s":"SDF1a+AMD3100","t":207,"v":0.012},{"s":"SDF1a+AMD3100","t":212,"v":0.012},{"s":"SDF1a+AMD3100","t":217,"v":0.012},{"s":"SDF1a+AMD3100","t":222,"v":0.012},{"s":"SDF1a+AMD3100","t":227,"v":0.012},{"s":"SDF1a+AMD3100","t":232,"v":0.012},{"s":"SDF1a+AMD3100","t":237,"v":0.012},{"s":"SDF1a+AMD3100","t":242,"v":0.012},{"s":"SDF1a+AMD3100","t":247,"v":0.012},{"s":"SDF1a+AMD3100","t":252,"v":0.012},{"s":"SDF1a+AMD3100","t":257,"v":0.012},{"s":"SDF1a+AMD3100","t":262,"v":0.012},{"s":"SDF1a+AMD3100","t":267,"v":0.012},{"s":"SDF1a+AMD3100","t":272,"v":0.012},{"s":"SDF1a+AMD3100","t":277,"v":0.012},{"s":"SDF1a+AMD3100","t":282,"v":0.012},{"s":"SDF1a+AMD3100","t":287,"v":0.012},{"s":"SDF1a+AMD3100","t":292,"v":0.012},{"s":"SDF1a+AMD3100","t":297,"v":0.012},{"s":"SDF1a+AMD3100","t":302,"v":0.012},{"s":"SDF1a+AMD3100","t":307,"v":0.012},{"s":"SDF1a+AMD3100","t":312,"v":0.012},{"s":"SDF1a+AMD3100","t":317,"v":0.012},{"s":"SDF1a+AMD3100","t":322,"v":0.012},{"s":"SDF1a+AMD3100","t":327,"v":0.012},{"s":"SDF1a+AMD3100","t":332,"v":0.012},{"s":"SDF1a+AMD3100","t":338,"v":0.012}
],
"D":[
{"s":"ITAC","t":0,"v":0.0073},{"s":"ITAC","t":2,"v":0.0075},{"s":"ITAC","t":4,"v":0.0077},{"s":"ITAC","t":6,"v":0.0079},{"s":"ITAC","t":8,"v":0.0081},{"s":"ITAC","t":10,"v":0.0083},{"s":"ITAC","t":12,"v":0.0085},{"s":"ITAC","t":14,"v":0.0087},{"s":"ITAC","t":16,"v":0.0089},{"s":"ITAC","t":18,"v":0.0091},{"s":"ITAC","t":20,"v":0.0094},{"s":"ITAC","t":22,"v":0.0097},{"s":"ITAC","t":24,"v":0.01},{"s":"ITAC","t":26,"v":0.0103},{"s":"ITAC","t":28,"v":0.0106},{"s":"ITAC","t":30,"v":0.011},{"s":"ITAC","t":32,"v":0.0115},{"s":"ITAC","t":34,"v":0.012},{"s":"ITAC","t":36,"v":0.0125},{"s":"ITAC","t":38,"v":0.015},{"s":"ITAC","t":39.8,"v":0.0196,"e":0.003},{"s":"ITAC","t":41.8,"v":0.0209,"e":0.004},{"s":"ITAC","t":43.9,"v":0.0256,"e":0.006},{"s":"ITAC","t":46,"v":0.0378,"e":0.01},{"s":"ITAC","t":47.7,"v":0.0533,"e":0.014},{"s":"ITAC","t":49.7,"v":0.07,"e":0.018},{"s":"ITAC","t":51.9,"v":0.0833,"e":0.022},{"s":"ITAC","t":53.9,"v":0.0922,"e":0.025},{"s":"ITAC","t":55.8,"v":0.0971,"e":0.025},{"s":"ITAC","t":57.8,"v":0.0993,"e":0.025},{"s":"ITAC","t":60,"v":0.0982,"e":0.025},{"s":"ITAC","t":62,"v":0.0951,"e":0.025},{"s":"ITAC","t":64,"v":0.0907,"e":0.022},{"s":"ITAC","t":65.9,"v":0.0856,"e":0.022},{"s":"ITAC","t":67.9,"v":0.0789,"e":0.022},{"s":"ITAC","t":69.9,"v":0.0733,"e":0.022},{"s":"ITAC","t":71.7,"v":0.0678,"e":0.022},{"s":"ITAC","t":73.8,"v":0.0622,"e":0.02},{"s":"ITAC","t":75.8,"v":0.0573,"e":0.02},{"s":"ITAC","t":77.6,"v":0.0522,"e":0.02},{"s":"ITAC","t":79.6,"v":0.0478,"e":0.02},{"s":"ITAC","t":81.7,"v":0.0433,"e":0.016},{"s":"ITAC","t":83.5,"v":0.0396,"e":0.016},{"s":"ITAC","t":85.5,"v":0.0362,"e":0.016},{"s":"ITAC","t":87.5,"v":0.0329,"e":0.016},{"s":"ITAC","t":89.4,"v":0.03,"e":0.012},{"s":"ITAC","t":91.4,"v":0.0278,"e":0.012},{"s":"ITAC","t":93.4,"v":0.0256,"e":0.012},{"s":"ITAC","t":95.3,"v":0.024,"e":0.012},{"s":"ITAC","t":97.3,"v":0.0227,"e":0.009},{"s":"ITAC","t":99.3,"v":0.0218,"e":0.009},{"s":"ITAC","t":101.3,"v":0.021,"e":0.009},{"s":"ITAC","t":103.3,"v":0.0204,"e":0.009},{"s":"ITAC","t":105.3,"v":0.0198,"e":0.009},{"s":"ITAC","t":107.3,"v":0.0193,"e":0.009},{"s":"ITAC","t":109.3,"v":0.0187,"e":0.009},{"s":"ITAC","t":111.3,"v":0.018,"e":0.006},{"s":"ITAC","t":113.3,"v":0.0173,"e":0.006},{"s":"ITAC","t":115.3,"v":0.0166,"e":0.006},{"s":"ITAC","t":117.3,"v":0.016,"e":0.006},{"s":"ITAC","t":119.3,"v":0.0156,"e":0.006},{"s":"ITAC","t":121.3,"v":0.0152,"e":0.006},{"s":"ITAC","t":123.3,"v":0.0148,"e":0.006},{"s":"ITAC","t":125.3,"v":0.0145,"e":0.006},{"s":"ITAC","t":127.3,"v":0.0142,"e":0.006},{"s":"ITAC","t":129.3,"v":0.0139,"e":0.006},{"s":"ITAC","t":131.3,"v":0.0136,"e":0.006},{"s":"ITAC","t":133.3,"v":0.0133,"e":0.006},{"s":"ITAC","t":135.3,"v":0.0131,"e":0.006},{"s":"ITAC","t":137.3,"v":0.0129,"e":0.006},{"s":"ITAC","t":139.3,"v":0.0127,"e":0.006},{"s":"ITAC","t":141.3,"v":0.0125,"e":0.006},{"s":"ITAC","t":143.3,"v":0.0123,"e":0.006},{"s":"ITAC","t":145.3,"v":0.0121,"e":0.006},{"s":"ITAC","t":147.3,"v":0.0119,"e":0.006},{"s":"ITAC","t":149.3,"v":0.0117,"e":0.006},{"s":"ITAC","t":151.3,"v":0.012,"e":0.006},
{"s":"ITAC+NF279","t":0,"v":0.0022},{"s":"ITAC+NF279","t":2,"v":0.0028},{"s":"ITAC+NF279","t":4,"v":0.0034},{"s":"ITAC+NF279","t":6,"v":0.004},{"s":"ITAC+NF279","t":8,"v":0.0046},{"s":"ITAC+NF279","t":10,"v":0.0053},{"s":"ITAC+NF279","t":12,"v":0.0059},{"s":"ITAC+NF279","t":14,"v":0.0065},{"s":"ITAC+NF279","t":16,"v":0.0071},{"s":"ITAC+NF279","t":18,"v":0.0077},{"s":"ITAC+NF279","t":20,"v":0.0083},{"s":"ITAC+NF279","t":22,"v":0.0089},{"s":"ITAC+NF279","t":24,"v":0.0095},{"s":"ITAC+NF279","t":26,"v":0.0101},{"s":"ITAC+NF279","t":28,"v":0.0107},{"s":"ITAC+NF279","t":30,"v":0.0113},{"s":"ITAC+NF279","t":32,"v":0.0119},{"s":"ITAC+NF279","t":34,"v":0.0125},{"s":"ITAC+NF279","t":36,"v":0.0131},{"s":"ITAC+NF279","t":38,"v":0.0136},{"s":"ITAC+NF279","t":40,"v":0.0139},{"s":"ITAC+NF279","t":42,"v":0.0142},{"s":"ITAC+NF279","t":44,"v":0.0145},{"s":"ITAC+NF279","t":46,"v":0.0149},{"s":"ITAC+NF279","t":48,"v":0.0154},{"s":"ITAC+NF279","t":50,"v":0.016},{"s":"ITAC+NF279","t":52,"v":0.017},{"s":"ITAC+NF279","t":54,"v":0.0178},{"s":"ITAC+NF279","t":56,"v":0.0185},{"s":"ITAC+NF279","t":57.5,"v":0.0218,"e":0.004},{"s":"ITAC+NF279","t":59.5,"v":0.0227,"e":0.004},{"s":"ITAC+NF279","t":61.3,"v":0.0249,"e":0.004},{"s":"ITAC+NF279","t":63.3,"v":0.0278,"e":0.005},{"s":"ITAC+NF279","t":65.4,"v":0.0304,"e":0.007},{"s":"ITAC+NF279","t":67.4,"v":0.0322,"e":0.007},{"s":"ITAC+NF279","t":69.6,"v":0.0329,"e":0.007},{"s":"ITAC+NF279","t":71.6,"v":0.0333,"e":0.007},{"s":"ITAC+NF279","t":73.6,"v":0.0334,"e":0.007},{"s":"ITAC+NF279","t":75.6,"v":0.0334,"e":0.008},{"s":"ITAC+NF279","t":77.6,"v":0.0334,"e":0.009},{"s":"ITAC+NF279","t":79.6,"v":0.0334,"e":0.009},{"s":"ITAC+NF279","t":81.6,"v":0.0334,"e":0.009},{"s":"ITAC+NF279","t":83.6,"v":0.0335,"e":0.009},{"s":"ITAC+NF279","t":85.6,"v":0.0336,"e":0.009},{"s":"ITAC+NF279","t":87.6,"v":0.0336,"e":0.009},{"s":"ITAC+NF279","t":89.6,"v":0.0335,"e":0.009},{"s":"ITAC+NF279","t":91.6,"v":0.0332,"e":0.009},{"s":"ITAC+NF279","t":93.6,"v":0.0326,"e":0.009},{"s":"ITAC+NF279","t":95.6,"v":0.032,"e":0.009},{"s":"ITAC+NF279","t":97.6,"v":0.0313,"e":0.008},{"s":"ITAC+NF279","t":99.6,"v":0.0306,"e":0.008},{"s":"ITAC+NF279","t":101.6,"v":0.0299,"e":0.008},{"s":"ITAC+NF279","t":103.6,"v":0.0292,"e":0.008},{"s":"ITAC+NF279","t":105.6,"v":0.0285,"e":0.008},{"s":"ITAC+NF279","t":107.6,"v":0.0277,"e":0.008},{"s":"ITAC+NF279","t":109.6,"v":0.027,"e":0.008},{"s":"ITAC+NF279","t":111.6,"v":0.0263,"e":0.008},{"s":"ITAC+NF279","t":113.6,"v":0.0256,"e":0.008},{"s":"ITAC+NF279","t":115.6,"v":0.025,"e":0.008},{"s":"ITAC+NF279","t":117.6,"v":0.0244,"e":0.008},{"s":"ITAC+NF279","t":119.6,"v":0.0238,"e":0.008},{"s":"ITAC+NF279","t":121.6,"v":0.0233,"e":0.008},{"s":"ITAC+NF279","t":123.6,"v":0.0228,"e":0.008},{"s":"ITAC+NF279","t":125.6,"v":0.0224,"e":0.008},{"s":"ITAC+NF279","t":127.6,"v":0.022,"e":0.008},{"s":"ITAC+NF279","t":129.6,"v":0.0217,"e":0.008},{"s":"ITAC+NF279","t":131.6,"v":0.0214,"e":0.008},{"s":"ITAC+NF279","t":133.6,"v":0.0211,"e":0.008},{"s":"ITAC+NF279","t":135.6,"v":0.0208,"e":0.008},{"s":"ITAC+NF279","t":137.6,"v":0.0205,"e":0.008}
]
},
"columns":2,
"spacing":{"row":130,"column":73},
"bounds":"flush",
"resolve":{"scale":{"fill":"independent","stroke":"independent","color":"independent"},"legend":{"fill":"independent","stroke":"independent","color":"independent"}},
"concat":[
{
"width":332,"height":232,
"title":{"text":"A"},
"data":{"name":"A"},
"resolve":{"axis":{"x":"independent","y":"independent"}},
"layer":[
{"transform":[{"filter":"isValid(datum.h)"}],"mark":{"type":"rule","color":"#c4c4c4","strokeWidth":1},
"encoding":{"x":{"field":"t","type":"quantitative","axis":null},"y":{"field":"v","type":"quantitative","axis":null},"y2":{"field":"h"}}},
{"transform":[{"filter":"isValid(datum.h)"}],"mark":{"type":"tick","orient":"horizontal","color":"#c4c4c4","size":6,"thickness":1},
"encoding":{"x":{"field":"t","type":"quantitative","axis":null},"y":{"field":"h","type":"quantitative","axis":null}}},
{"mark":{"type":"line","strokeWidth":1.5},
"encoding":{
"x":{"field":"t","type":"quantitative","scale":{"domain":[-9,205],"nice":false,"zero":false},"axis":{"title":"Time (sec)","values":[0,50,100,150,200]}},
"y":{"field":"v","type":"quantitative","scale":{"domain":[0,0.45],"nice":false,"zero":false},"axis":{"title":"Fractional Fluorescence Increase","values":[0,0.1,0.2,0.3,0.4],"format":".1f"}},
"stroke":{"field":"s","type":"nominal","scale":{"domain":["RANTES","RANTES+NF340","RANTES+TAK779","RANTES+NF279"],"range":["#ff0000","#f0b858","#bdbdbd","#0000ff"]},
"legend":{"orient":"none","legendX":176,"legendY":17.7,"title":null,"symbolType":"M-4,0L4,0","symbolSize":64,"symbolStrokeWidth":1.5,"labelOpacity":0,"labelOffset":18,"values":["RANTES","RANTES+NF340","RANTES+TAK779","RANTES+NF279"]}}}},
{"mark":{"type":"point","filled":true,"size":64,"opacity":1,"strokeWidth":0.8},
"encoding":{
"x":{"field":"t","type":"quantitative","axis":{"orient":"top","title":"TZM-bl cells","labels":false,"ticks":false,"domain":false,"titleFontSize":15,"titlePadding":5}},
"y":{"field":"v","type":"quantitative","axis":null},
"fill":{"field":"s","type":"nominal","scale":{"domain":["RANTES+NF279","RANTES+TAK779","RANTES+NF340","RANTES"],"range":["#1616d6","#33e0e0","#f3bd5a","#ee1111"]},
"legend":{"orient":"none","legendX":176,"legendY":17.7,"title":null,"symbolType":"circle","symbolSize":64,"symbolStrokeWidth":1,"symbolStrokeColor":"black","labelOffset":18,"values":["RANTES","RANTES+NF340","RANTES+TAK779","RANTES+NF279"]}},
"stroke":{"value":"black"}}},
{"data":{"values":[{}]},"mark":{"type":"rule","color":"black","strokeWidth":1.5},"encoding":{"x":{"datum":47.6,"type":"quantitative","axis":null},"y":{"datum":0.1726,"type":"quantitative","axis":null},"x2":{"datum":59.3},"y2":{"datum":0.0656}}},
{"data":{"values":[{}]},"mark":{"type":"rule","color":"black","strokeWidth":1.5},"encoding":{"x":{"datum":51.8,"type":"quantitative","axis":null},"y":{"datum":0.101,"type":"quantitative","axis":null},"x2":{"datum":59.3},"y2":{"datum":0.0656}}},
{"data":{"values":[{}]},"mark":{"type":"rule","color":"black","strokeWidth":1.5},"encoding":{"x":{"datum":59.3,"type":"quantitative","axis":null},"y":{"datum":0.108,"type":"quantitative","axis":null},"x2":{"datum":59.3},"y2":{"datum":0.0656}}}
]
},
{
"width":332,"height":232,
"title":{"text":"B"},
"data":{"name":"B"},
"resolve":{"axis":{"x":"independent","y":"independent"}},
"layer":[
{"transform":[{"filter":"isValid(datum.e)"}],"mark":{"type":"errorbar","ticks":{"size":6},"thickness":1},
"encoding":{"x":{"field":"t","type":"quantitative","axis":null},"y":{"field":"v","type":"quantitative","axis":null},"yError":{"field":"e"},
"color":{"field":"s","type":"nominal","scale":{"domain":["SDF1α+NF340","SDF1α","SDF1α+NF279","SDF1α+AMD3100"],"range":["#c8c8c8","#c8c8c8","#111111","#c8c8c8"]},"legend":null}}},
{"mark":{"type":"line","strokeWidth":1.5},
"encoding":{
"x":{"field":"t","type":"quantitative","scale":{"domain":[-10,206],"nice":false,"zero":false},"axis":{"title":"Time (sec)","values":[0,50,100,150,200]}},
"y":{"field":"v","type":"quantitative","scale":{"domain":[-0.018,0.3],"nice":false,"zero":false},"axis":{"title":null,"values":[0,0.05,0.1,0.15,0.2,0.25,0.3],"format":".2f"}},
"stroke":{"field":"s","type":"nominal","scale":{"domain":["SDF1α","SDF1α+NF340","SDF1α+AMD3100","SDF1α+NF279"],"range":["#ff0000","#f5c87a","#111111","#3030c8"]},
"legend":{"orient":"none","legendX":177,"legendY":18.7,"title":null,"symbolType":"M-4,0L4,0","symbolSize":64,"symbolStrokeWidth":1.5,"labelOpacity":0,"labelOffset":17,"values":["SDF1α","SDF1α+NF340","SDF1α+AMD3100","SDF1α+NF279"]}}}},
{"mark":{"type":"point","filled":true,"size":64,"opacity":1,"strokeWidth":0.8},
"encoding":{
"x":{"field":"t","type":"quantitative","axis":{"orient":"top","title":"TZM-bl cells","labels":false,"ticks":false,"domain":false,"titleFontSize":15,"titlePadding":5}},
"y":{"field":"v","type":"quantitative","axis":null},
"fill":{"field":"s","type":"nominal","scale":{"domain":["SDF1α+NF279","SDF1α+AMD3100","SDF1α+NF340","SDF1α"],"range":["#1616d6","#33dede","#f8cd85","#ee1111"]},
"legend":{"orient":"none","legendX":177,"legendY":18.7,"title":null,"symbolType":"circle","symbolSize":64,"symbolStrokeWidth":1,"symbolStrokeColor":"black","labelOffset":17,"values":["SDF1α","SDF1α+NF340","SDF1α+AMD3100","SDF1α+NF279"]}},
"stroke":{"value":"black"}}},
{"data":{"values":[{}]},"mark":{"type":"rule","color":"black","strokeWidth":1.5},"encoding":{"x":{"datum":28.5,"type":"quantitative","axis":null},"y":{"datum":0.1238,"type":"quantitative","axis":null},"x2":{"datum":39.9},"y2":{"datum":0.048}}},
{"data":{"values":[{}]},"mark":{"type":"rule","color":"black","strokeWidth":1.5},"encoding":{"x":{"datum":31.9,"type":"quantitative","axis":null},"y":{"datum":0.0757,"type":"quantitative","axis":null},"x2":{"datum":39.9},"y2":{"datum":0.048}}},
{"data":{"values":[{}]},"mark":{"type":"rule","color":"black","strokeWidth":1.5},"encoding":{"x":{"datum":39.3,"type":"quantitative","axis":null},"y":{"datum":0.0766,"type":"quantitative","axis":null},"x2":{"datum":39.9},"y2":{"datum":0.048}}}
]
},
{
"width":332,"height":232,
"title":{"text":"C"},
"data":{"name":"C"},
"resolve":{"axis":{"x":"independent","y":"independent"}},
"layer":[
{"transform":[{"filter":"isValid(datum.e)"}],"mark":{"type":"errorbar","color":"#c8c8c8","ticks":{"size":6},"thickness":1},
"encoding":{"x":{"field":"t","type":"quantitative","axis":null},"y":{"field":"v","type":"quantitative","axis":null},"yError":{"field":"e"}}},
{"mark":{"type":"line","strokeWidth":1.5},
"encoding":{
"x":{"field":"t","type":"quantitative","scale":{"domain":[-17,354],"nice":false,"zero":false},"axis":{"title":"Time (sec)","values":[0,50,100,150,200,250,300,350]}},
"y":{"field":"v","type":"quantitative","scale":{"domain":[-0.035,1.055],"nice":false,"zero":false},"axis":{"title":"Fractional Fluorescence Increase","values":[0,0.2,0.4,0.6,0.8,1.0],"format":".1f"}},
"stroke":{"field":"s","type":"nominal","scale":{"domain":["SDF1a","SDF1a+NF279","SDF1a+AMD3100"],"range":["#ff0000","#0000ff","#bdbdbd"]},
"legend":{"orient":"none","legendX":165.7,"legendY":18,"title":null,"symbolType":"M-4,0L4,0","symbolSize":64,"symbolStrokeWidth":1.5,"labelOpacity":0,"labelOffset":17,"values":["SDF1a","SDF1a+NF279","SDF1a+AMD3100"]}}}},
{"mark":{"type":"point","filled":true,"size":56,"opacity":1,"strokeWidth":0.8},
"encoding":{
"x":{"field":"t","type":"quantitative","axis":{"orient":"top","title":"CEM-A cells","labels":false,"ticks":false,"domain":false,"titleFontSize":15,"titlePadding":5}},
"y":{"field":"v","type":"quantitative","axis":null},
"fill":{"field":"s","type":"nominal","scale":{"domain":["SDF1a+AMD3100","SDF1a+NF279","SDF1a"],"range":["#33d4d4","#1616d6","#ee1111"]},
"legend":{"orient":"none","legendX":165.7,"legendY":18,"title":null,"symbolType":"circle","symbolSize":64,"symbolStrokeWidth":1,"symbolStrokeColor":"black","labelOffset":17,"values":["SDF1a","SDF1a+NF279","SDF1a+AMD3100"]}},
"stroke":{"value":"black"}}},
{"data":{"values":[{}]},"mark":{"type":"rule","color":"black","strokeWidth":1.5},"encoding":{"x":{"datum":16.9,"type":"quantitative","axis":null},"y":{"datum":0.34,"type":"quantitative","axis":null},"x2":{"datum":36.8},"y2":{"datum":0.0796}}},
{"data":{"values":[{}]},"mark":{"type":"rule","color":"black","strokeWidth":1.5},"encoding":{"x":{"datum":23.6,"type":"quantitative","axis":null},"y":{"datum":0.176,"type":"quantitative","axis":null},"x2":{"datum":36.8},"y2":{"datum":0.0796}}},
{"data":{"values":[{}]},"mark":{"type":"rule","color":"black","strokeWidth":1.5},"encoding":{"x":{"datum":36,"type":"quantitative","axis":null},"y":{"datum":0.184,"type":"quantitative","axis":null},"x2":{"datum":36.8},"y2":{"datum":0.0796}}}
]
},
{
"width":332,"height":232,
"title":{"text":"D"},
"data":{"name":"D"},
"resolve":{"axis":{"x":"independent","y":"independent"}},
"layer":[
{"transform":[{"filter":"isValid(datum.e)"}],"mark":{"type":"errorbar","color":"#c8c8c8","ticks":{"size":6},"thickness":1},
"encoding":{"x":{"field":"t","type":"quantitative","axis":null},"y":{"field":"v","type":"quantitative","axis":null},"yError":{"field":"e"}}},
{"mark":{"type":"line","strokeWidth":1.5},
"encoding":{
"x":{"field":"t","type":"quantitative","scale":{"domain":[-7.4,159],"nice":false,"zero":false},"axis":{"title":"Time (sec)","values":[0,20,40,60,80,100,120,140]}},
"y":{"field":"v","type":"quantitative","scale":{"domain":[-0.004,0.151],"nice":false,"zero":false},"axis":{"title":null,"values":[0,0.04,0.08,0.12],"format":".2f"}},
"stroke":{"field":"s","type":"nominal","scale":{"domain":["ITAC","ITAC+NF279"],"range":["#ff0000","#0000ff"]},
"legend":{"orient":"none","legendX":178,"legendY":22.5,"title":null,"symbolType":"M-4,0L4,0","symbolSize":64,"symbolStrokeWidth":1.5,"labelOpacity":0,"labelOffset":20,"labelFontSize":15,"rowPadding":4,"values":["ITAC","ITAC+NF279"]}}}},
{"mark":{"type":"point","filled":true,"size":68,"opacity":1,"strokeWidth":0.8},
"encoding":{
"x":{"field":"t","type":"quantitative","axis":{"orient":"top","title":"CEM-A cells","labels":false,"ticks":false,"domain":false,"titleFontSize":15,"titlePadding":5}},
"y":{"field":"v","type":"quantitative","axis":null},
"fill":{"field":"s","type":"nominal","scale":{"domain":["ITAC+NF279","ITAC"],"range":["#1616d6","#ee1111"]},
"legend":{"orient":"none","legendX":178,"legendY":22.5,"title":null,"symbolType":"circle","symbolSize":64,"symbolStrokeWidth":1,"symbolStrokeColor":"black","labelOffset":20,"labelFontSize":15,"rowPadding":4,"values":["ITAC","ITAC+NF279"]}},
"stroke":{"value":"black"}}},
{"data":{"values":[{}]},"mark":{"type":"rule","color":"black","strokeWidth":1.5},"encoding":{"x":{"datum":25.4,"type":"quantitative","axis":null},"y":{"datum":0.0516,"type":"quantitative","axis":null},"x2":{"datum":34.6},"y2":{"datum":0.0138}}},
{"data":{"values":[{}]},"mark":{"type":"rule","color":"black","strokeWidth":1.5},"encoding":{"x":{"datum":28.4,"type":"quantitative","axis":null},"y":{"datum":0.0267,"type":"quantitative","axis":null},"x2":{"datum":34.6},"y2":{"datum":0.0138}}},
{"data":{"values":[{}]},"mark":{"type":"rule","color":"black","strokeWidth":1.5},"encoding":{"x":{"datum":34.3,"type":"quantitative","axis":null},"y":{"datum":0.0289,"type":"quantitative","axis":null},"x2":{"datum":34.6},"y2":{"datum":0.0138}}}
]
}
]
}
